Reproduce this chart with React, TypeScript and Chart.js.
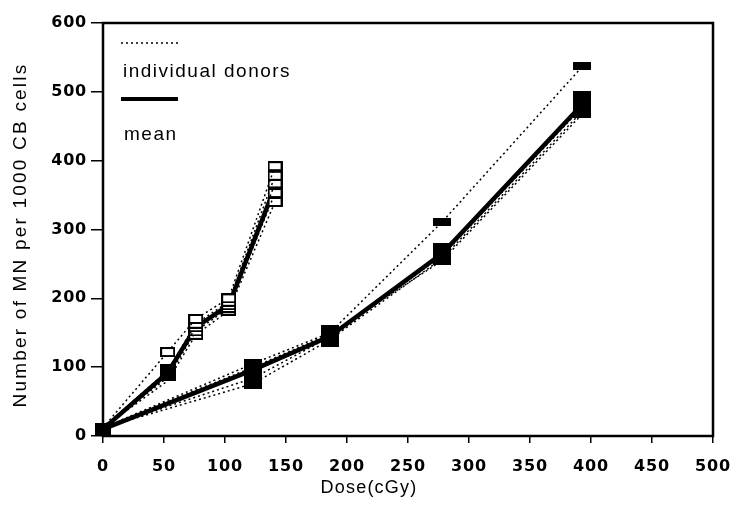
import React, { useEffect, useRef } from "react";
import { Chart, registerables } from "chart.js";

Chart.register(...registerables);

// ---- data ----
const xTicks = [0, 50, 100, 150, 200, 250, 300, 350, 400, 450, 500];
const yTicks = [0, 100, 200, 300, 400, 500, 600];

// group with open squares (steep curve)
const doseA = [0, 53, 76, 103, 141];
const donorA1 = [12, 122, 170, 200, 392];
const donorA2 = [12, 95, 163, 195, 378];
const donorA3 = [12, 88, 158, 190, 367];
const donorA4 = [12, 85, 152, 186, 353];
const donorA5 = [12, 80, 147, 182, 340];
const meanA = [10, 92, 158, 190, 362];

// group with filled squares
const doseB = [0, 123, 186, 278, 393];
const donorB1 = [12, 105, 150, 311, 537];
const donorB2 = [12, 76, 140, 258, 472];
const donorB3 = [12, 84, 144, 262, 478];
const donorB4 = [12, 100, 148, 255, 468];
const meanB = [10, 96, 145, 265, 482];

const legendDonors = "individual donors";
const legendMean = "mean";
const xTitle = "Dose(cGy)";
const yTitle = "Number of MN per 1000 CB cells";

function rectImg(w: number, h: number, open: boolean) {
  const c = document.createElement("canvas");
  c.width = w;
  c.height = h;
  const g = c.getContext("2d")!;
  if (open) {
    g.fillStyle = "#fff";
    g.fillRect(0, 0, w, h);
    g.strokeStyle = "#000";
    g.lineWidth = 2;
    g.strokeRect(1, 1, w - 2, h - 2);
  } else {
    g.fillStyle = "#000";
    g.fillRect(0, 0, w, h);
  }
  return c;
}

function pts(xs: number[], ys: number[]) {
  return xs.map((x, i) => ({ x, y: ys[i] }));
}

export default function App() {
  const ref = useRef<HTMLCanvasElement>(null);

  useEffect(() => {
    if (!ref.current) return;
    const openBox = rectImg(15, 10, true);
    const originSq = rectImg(16, 13, false);
    const meanSqA = rectImg(16, 17, false);
    const bigSq = rectImg(18, 22, false);
    const tallSq = rectImg(18, 27, false);
    const smallRect = rectImg(18, 8, false);
    const smallRect2 = rectImg(18, 10, false);

    const dotted = {
      borderColor: "#000",
      borderWidth: 1.5,
      borderDash: [2, 3],
      fill: false,
      tension: 0,
      clip: false as any,
    };
    const solid = {
      borderColor: "#000",
      borderWidth: 4.5,
      fill: false,
      tension: 0,
      clip: false as any,
    };

    const donorAds = (ys: number[], radii: number[]) => ({
      ...dotted,
      data: pts(doseA, ys),
      pointStyle: openBox,
      pointRadius: radii,
    });

    const plugin = {
      id: "deco",
      beforeDraw(chart: any) {
        chart.ctx.letterSpacing = "0.8px";
      },
      afterDraw(chart: any) {
        const ctx = chart.ctx as CanvasRenderingContext2D;
        const a = chart.chartArea;
        ctx.save();
        ctx.strokeStyle = "#000";
        ctx.fillStyle = "#000";
        ctx.lineWidth = 2.5;
        ctx.setLineDash([]);
        ctx.strokeRect(a.left, a.top, a.right - a.left, a.bottom - a.top);

        // legend
        const lx = a.left + 18;
        ctx.lineWidth = 1.5;
        ctx.setLineDash([2, 3]);
        ctx.beginPath();
        ctx.moveTo(lx, a.top + 20);
        ctx.lineTo(lx + 57, a.top + 20);
        ctx.stroke();
        ctx.setLineDash([]);
        ctx.lineWidth = 4;
        ctx.beginPath();
        ctx.moveTo(lx, a.top + 76);
        ctx.lineTo(lx + 57, a.top + 76);
        ctx.stroke();

        ctx.font = '19px "Liberation Sans"';
        (ctx as any).letterSpacing = "1.5px";
        ctx.textAlign = "left";
        ctx.textBaseline = "alphabetic";
        ctx.fillText(legendDonors, lx + 2, a.top + 54);
        ctx.fillText(legendMean, lx + 3, a.top + 117);

        // x title
        (ctx as any).letterSpacing = "1.2px";
        ctx.font = '18px "Liberation Sans"';
        ctx.textAlign = "center";
        ctx.fillText(xTitle, 369, 493);

        // y title
        ctx.translate(21, 235);
        ctx.rotate(-Math.PI / 2);
        ctx.font = '19px "Liberation Sans"';
        (ctx as any).letterSpacing = "2.2px";
        ctx.textAlign = "center";
        ctx.textBaseline = "middle";
        ctx.fillText(yTitle, 0, 0);
        ctx.restore();
        (ctx as any).letterSpacing = "0px";
      },
    };

    const tickFont = { family: "DejaVu Sans", size: 16, weight: "bold" };

    const chart = new Chart(ref.current, {
      type: "line",
      data: {
        datasets: [
          donorAds(donorA1, [0, 5, 5, 5, 5]),
          donorAds(donorA2, [0, 0, 5, 5, 5]),
          donorAds(donorA3, [0, 0, 5, 5, 5]),
          donorAds(donorA4, [0, 0, 5, 5, 5]),
          donorAds(donorA5, [0, 0, 5, 5, 5]),
          {
            ...solid,
            data: pts(doseA, meanA),
            pointStyle: [originSq, meanSqA, meanSqA, meanSqA, meanSqA] as any,
            pointRadius: [5, 5, 0, 0, 0],
          },
          {
            ...solid,
            data: pts(doseB, meanB),
            pointStyle: [bigSq, bigSq, bigSq, bigSq, tallSq] as any,
            pointRadius: [0, 5, 5, 5, 5],
          },
          {
            ...dotted,
            data: pts(doseB, donorB1),
            pointStyle: smallRect as any,
            pointRadius: [0, 0, 0, 5, 5],
          },
          {
            ...dotted,
            data: pts(doseB, donorB2),
            pointStyle: smallRect2 as any,
            pointRadius: [0, 5, 0, 0, 0],
          },
          { ...dotted, data: pts(doseB, donorB3), pointRadius: 0 },
          { ...dotted, data: pts(doseB, donorB4), pointRadius: 0 },
        ] as any,
      },
      options: {
        responsive: false,
        animation: false,
        events: [],
        layout: { padding: { left: 0, top: 23, right: 23, bottom: 0 } },
        plugins: {
          legend: { display: false },
          tooltip: { enabled: false },
          title: { display: false },
        },
        scales: {
          x: {
            type: "linear",
            min: 0,
            max: 500,
            afterFit: (s: any) => {
              s.height = 69;
              s.paddingLeft = 0;
              s.paddingRight = 0;
            },
            afterBuildTicks: (s: any) => {
              s.ticks = xTicks.map((v) => ({ value: v }));
            },
            border: { display: false },
            grid: {
              drawOnChartArea: false,
              drawTicks: true,
              tickLength: 7,
              color: "#000",
              lineWidth: 1.5,
            },
            ticks: {
              color: "#000",
              padding: 14,
              maxRotation: 0,
              font: tickFont,
            },
          },
          y: {
            type: "linear",
            min: 0,
            max: 600,
            afterFit: (s: any) => {
              s.width = 103;
              s.paddingTop = 0;
              s.paddingBottom = 0;
            },
            afterBuildTicks: (s: any) => {
              s.ticks = yTicks.map((v) => ({ value: v }));
            },
            border: { display: false },
            grid: {
              drawOnChartArea: false,
              drawTicks: true,
              tickLength: 12,
              color: "#000",
              lineWidth: 1.5,
            },
            ticks: {
              color: "#000",
              padding: 4,
              font: tickFont,
            },
          },
        },
      } as any,
      plugins: [plugin],
    });
    return () => chart.destroy();
  }, []);

  return (
    <div style={{ position: "fixed", left: 0, top: 0, width: 736, height: 505, background: "#fff" }}>
      <canvas ref={ref} width={736} height={505} style={{ display: "block" }} />
    </div>
  );
}
